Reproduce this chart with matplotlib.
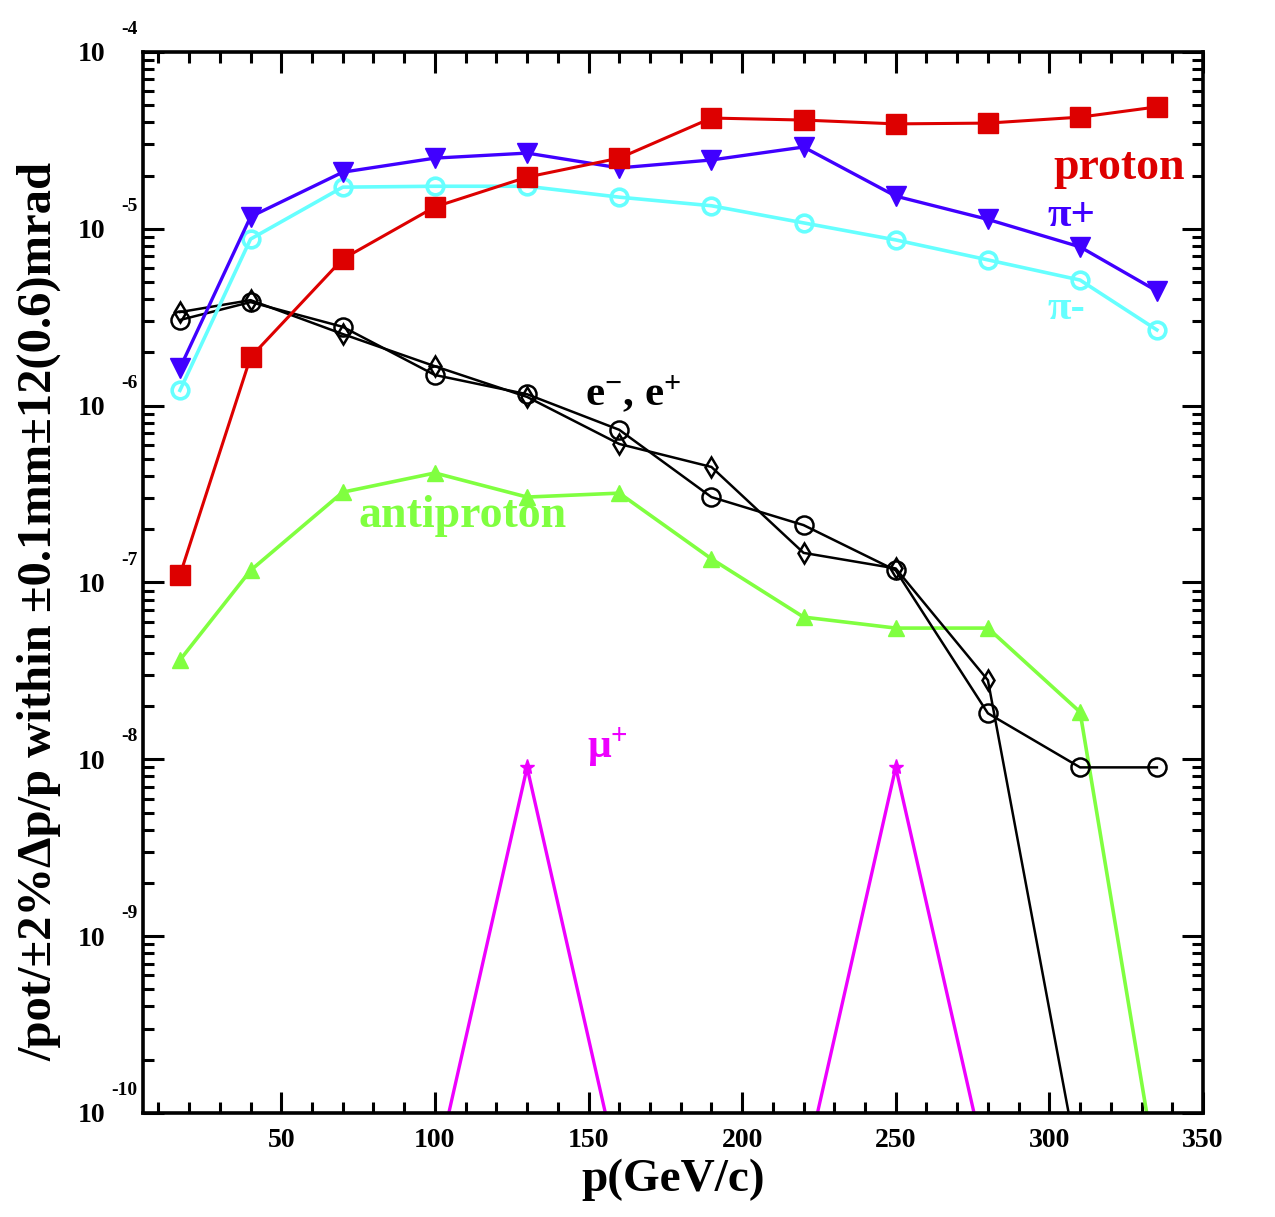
import matplotlib
matplotlib.use("Agg")
import matplotlib.pyplot as plt
from matplotlib.ticker import FixedLocator, LogLocator, NullFormatter, MultipleLocator

plt.rcParams['font.family'] = ['Liberation Serif', 'DejaVu Serif']
plt.rcParams['font.weight'] = 'bold'
plt.rcParams['axes.labelweight'] = 'bold'
plt.rcParams['mathtext.fontset'] = 'custom'
plt.rcParams['mathtext.rm'] = 'Liberation Serif:bold'
plt.rcParams['mathtext.it'] = 'Liberation Serif:bold'
plt.rcParams['mathtext.bf'] = 'Liberation Serif:bold'

# momentum points (GeV/c)
p = [17, 40, 70, 100, 130, 160, 190, 220, 250, 280, 310, 335]
FLOOR = 4.5e-11   # values below the plot range

proton = [1.1e-7, 1.88e-6, 6.75e-6, 1.33e-5, 1.96e-5, 2.51e-5,
          4.23e-5, 4.12e-5, 3.92e-5, 3.96e-5, 4.28e-5, 4.89e-5]
pi_plus = [1.63e-6, 1.17e-5, 2.09e-5, 2.51e-5, 2.68e-5, 2.21e-5,
           2.45e-5, 2.9e-5, 1.53e-5, 1.13e-5, 7.9e-6, 4.45e-6]
pi_minus = [1.22e-6, 8.75e-6, 1.72e-5, 1.74e-5, 1.74e-5, 1.51e-5,
            1.35e-5, 1.08e-5, 8.65e-6, 6.67e-6, 5.13e-6, 2.68e-6]
electron = [3.05e-6, 3.85e-6, 2.79e-6, 1.49e-6, 1.16e-6, 7.3e-7,
            3.04e-7, 2.11e-7, 1.17e-7, 1.82e-8, 9.0e-9, 9.0e-9]
positron = [3.38e-6, 3.95e-6, 2.54e-6, 1.67e-6, 1.12e-6, 6.07e-7,
            4.5e-7, 1.47e-7, 1.2e-7, 2.8e-8, FLOOR, FLOOR]
antiproton = [3.64e-8, 1.17e-7, 3.24e-7, 4.16e-7, 3.04e-7, 3.2e-7,
              1.36e-7, 6.37e-8, 5.52e-8, 5.52e-8, 1.85e-8, FLOOR]
mu_plus = [FLOOR, FLOOR, FLOOR, FLOOR, 9.0e-9, FLOOR,
           FLOOR, FLOOR, 9.0e-9, FLOOR, FLOOR, FLOOR]

red = '#dd0000'
blue = '#4000ff'
cyan = '#66ffff'
green = '#80ff40'
magenta = '#ee00ff'

fig = plt.figure(figsize=(12.75, 12.17), dpi=100)
ax = fig.add_axes([0.1122, 0.0855, 0.8313, 0.8718])

ax.plot(p, mu_plus, color=magenta, lw=2.4, marker='*', ms=11)
ax.plot(p, antiproton, color=green, lw=2.6, marker='^', ms=12)
ax.plot(p, positron, color='black', lw=1.8, marker='d', ms=10,
        mfc='none', mew=1.8)
ax.plot(p, electron, color='black', lw=1.8, marker='o', ms=13,
        mfc='none', mew=1.8)
ax.plot(p, pi_minus, color=cyan, lw=2.6, marker='o', ms=12,
        mfc='none', mew=2.6)
ax.plot(p, pi_plus, color=blue, lw=2.4, marker='v', ms=14)
ax.plot(p, proton, color=red, lw=2.2, marker='s', ms=14)

ax.set_yscale('log')
ax.set_xlim(5, 350)
ax.set_ylim(1e-10, 1e-4)

ax.xaxis.set_major_locator(MultipleLocator(50))
ax.xaxis.set_minor_locator(FixedLocator(range(10, 350, 10)))
ax.yaxis.set_major_locator(LogLocator(base=10, numticks=20))
ax.yaxis.set_minor_locator(LogLocator(base=10, subs=range(2, 10), numticks=100))
ax.yaxis.set_minor_formatter(NullFormatter())

ax.tick_params(which='both', direction='in', top=True, right=True, width=2.2)
ax.tick_params(which='major', length=15)
ax.tick_params(which='minor', length=8)
ax.tick_params(axis='x', labelsize=20, pad=11)
ax.tick_params(axis='y', labelsize=20, pad=27)
for s in ax.spines.values():
    s.set_linewidth(2.6)

decades = [-10, -9, -8, -7, -6, -5, -4]
ax.set_yticks([10.0 ** d for d in decades])
ax.set_yticklabels(['10'] * len(decades))
for d in decades:
    ax.annotate(str(d), xy=(0, 10.0 ** d), xycoords=('axes fraction', 'data'),
                xytext=(-4, 10), textcoords='offset points',
                ha='right', va='bottom', fontsize=14, fontweight='bold')

ax.set_xlabel('p(GeV/c)', fontsize=34, labelpad=4)
ax.set_ylabel('/pot/±2%Δp/p within ±0.1mm±12(0.6)mrad', fontsize=35)
ax.yaxis.set_label_coords(-0.077, 0.473)

ax.text(344, 2.2e-5, 'proton', color=red, fontsize=33, ha='right', va='center')
ax.text(299.5, 1.18e-5, 'π+', color=blue, fontsize=31, ha='left', va='center')
ax.text(299.5, 3.5e-6, 'π-', color=cyan, fontsize=31, ha='left', va='center')
ax.text(149, 1.0e-6, 'e$^{-}$, e$^{+}$', color='black', fontsize=31,
        ha='left', va='baseline')
ax.text(75, 2.06e-7, 'antiproton', color=green, fontsize=33,
        ha='left', va='baseline')
ax.text(149.5, 1.02e-8, 'μ$^{+}$', color=magenta, fontsize=30,
        ha='left', va='baseline')

fig.savefig('out.png', dpi=100)
